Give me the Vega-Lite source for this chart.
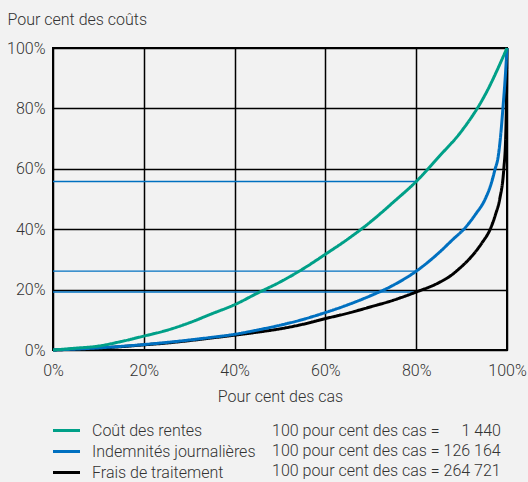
{
  "$schema": "https://vega.github.io/schema/vega-lite/v6.json",
  "autosize": {"type": "none"},
  "width": 454,
  "height": 302,
  "padding": {"left": 53, "top": 48, "right": 21, "bottom": 132},
  "background": "#f2f2f2",
  "config": {
    "font": "Roboto",
    "view": {"stroke": "#000000", "strokeWidth": 2},
    "axis": {
      "labelFont": "Roboto", "labelFontWeight": 300, "labelFontSize": 16, "labelColor": "#333333",
      "titleFont": "Roboto", "titleFontWeight": 300, "titleFontSize": 16, "titleColor": "#333333",
      "domain": false, "ticks": false, "tickSize": 0, "labelFlush": false,
      "gridColor": "#000000", "gridWidth": 1.5, "gridOpacity": 1
    },
    "legend": {
      "labelFont": "Roboto", "labelFontWeight": 300, "labelFontSize": 16, "labelColor": "#333333", "labelLimit": 400
    }
  },
  "layer": [
    {
      "data": {"values": [
        {"y": 55.8, "x": 0, "x2": 80},
        {"y": 26.1, "x": 0, "x2": 80},
        {"y": 19.2, "x": 0, "x2": 80}
      ]},
      "mark": {"type": "rule", "color": "#0070c0", "strokeWidth": 1.3},
      "encoding": {
        "x": {"field": "x", "type": "quantitative", "scale": {"domain": [0, 100]}},
        "x2": {"field": "x2"},
        "y": {"field": "y", "type": "quantitative", "scale": {"domain": [0, 100]}}
      }
    },
    {
      "data": {"values": [
        {"serie": "Frais de traitement", "cas": "100 pour cent des cas = 264 721", "x": 0, "y": 0},
        {"serie": "Frais de traitement", "cas": "100 pour cent des cas = 264 721", "x": 5, "y": 0.3},
        {"serie": "Frais de traitement", "cas": "100 pour cent des cas = 264 721", "x": 10, "y": 0.6},
        {"serie": "Frais de traitement", "cas": "100 pour cent des cas = 264 721", "x": 15, "y": 1.1},
        {"serie": "Frais de traitement", "cas": "100 pour cent des cas = 264 721", "x": 20, "y": 1.7},
        {"serie": "Frais de traitement", "cas": "100 pour cent des cas = 264 721", "x": 25, "y": 2.3},
        {"serie": "Frais de traitement", "cas": "100 pour cent des cas = 264 721", "x": 30, "y": 3.1},
        {"serie": "Frais de traitement", "cas": "100 pour cent des cas = 264 721", "x": 35, "y": 4.0},
        {"serie": "Frais de traitement", "cas": "100 pour cent des cas = 264 721", "x": 40, "y": 4.9},
        {"serie": "Frais de traitement", "cas": "100 pour cent des cas = 264 721", "x": 45, "y": 5.9},
        {"serie": "Frais de traitement", "cas": "100 pour cent des cas = 264 721", "x": 50, "y": 7.0},
        {"serie": "Frais de traitement", "cas": "100 pour cent des cas = 264 721", "x": 55, "y": 8.5},
        {"serie": "Frais de traitement", "cas": "100 pour cent des cas = 264 721", "x": 60, "y": 10.4},
        {"serie": "Frais de traitement", "cas": "100 pour cent des cas = 264 721", "x": 65, "y": 12.2},
        {"serie": "Frais de traitement", "cas": "100 pour cent des cas = 264 721", "x": 70, "y": 14.3},
        {"serie": "Frais de traitement", "cas": "100 pour cent des cas = 264 721", "x": 75, "y": 16.5},
        {"serie": "Frais de traitement", "cas": "100 pour cent des cas = 264 721", "x": 80, "y": 19.2},
        {"serie": "Frais de traitement", "cas": "100 pour cent des cas = 264 721", "x": 85, "y": 22.3},
        {"serie": "Frais de traitement", "cas": "100 pour cent des cas = 264 721", "x": 87.5, "y": 24.5},
        {"serie": "Frais de traitement", "cas": "100 pour cent des cas = 264 721", "x": 89.3, "y": 26.7},
        {"serie": "Frais de traitement", "cas": "100 pour cent des cas = 264 721", "x": 92.5, "y": 31.5},
        {"serie": "Frais de traitement", "cas": "100 pour cent des cas = 264 721", "x": 94.5, "y": 35.5},
        {"serie": "Frais de traitement", "cas": "100 pour cent des cas = 264 721", "x": 96.3, "y": 40},
        {"serie": "Frais de traitement", "cas": "100 pour cent des cas = 264 721", "x": 97.5, "y": 45},
        {"serie": "Frais de traitement", "cas": "100 pour cent des cas = 264 721", "x": 98.4, "y": 50},
        {"serie": "Frais de traitement", "cas": "100 pour cent des cas = 264 721", "x": 99.3, "y": 60},
        {"serie": "Frais de traitement", "cas": "100 pour cent des cas = 264 721", "x": 99.7, "y": 70},
        {"serie": "Frais de traitement", "cas": "100 pour cent des cas = 264 721", "x": 99.9, "y": 85},
        {"serie": "Frais de traitement", "cas": "100 pour cent des cas = 264 721", "x": 100, "y": 100},
        {"serie": "Indemnités journalières", "cas": "100 pour cent des cas = 126 164", "x": 0, "y": 0},
        {"serie": "Indemnités journalières", "cas": "100 pour cent des cas = 126 164", "x": 5, "y": 0.3},
        {"serie": "Indemnités journalières", "cas": "100 pour cent des cas = 126 164", "x": 10, "y": 0.7},
        {"serie": "Indemnités journalières", "cas": "100 pour cent des cas = 126 164", "x": 15, "y": 1.2},
        {"serie": "Indemnités journalières", "cas": "100 pour cent des cas = 126 164", "x": 20, "y": 1.8},
        {"serie": "Indemnités journalières", "cas": "100 pour cent des cas = 126 164", "x": 25, "y": 2.5},
        {"serie": "Indemnités journalières", "cas": "100 pour cent des cas = 126 164", "x": 30, "y": 3.3},
        {"serie": "Indemnités journalières", "cas": "100 pour cent des cas = 126 164", "x": 35, "y": 4.2},
        {"serie": "Indemnités journalières", "cas": "100 pour cent des cas = 126 164", "x": 40, "y": 5.2},
        {"serie": "Indemnités journalières", "cas": "100 pour cent des cas = 126 164", "x": 45, "y": 6.6},
        {"serie": "Indemnités journalières", "cas": "100 pour cent des cas = 126 164", "x": 50, "y": 8.2},
        {"serie": "Indemnités journalières", "cas": "100 pour cent des cas = 126 164", "x": 55, "y": 10.1},
        {"serie": "Indemnités journalières", "cas": "100 pour cent des cas = 126 164", "x": 60, "y": 12.4},
        {"serie": "Indemnités journalières", "cas": "100 pour cent des cas = 126 164", "x": 65, "y": 15.0},
        {"serie": "Indemnités journalières", "cas": "100 pour cent des cas = 126 164", "x": 70, "y": 18.0},
        {"serie": "Indemnités journalières", "cas": "100 pour cent des cas = 126 164", "x": 75, "y": 21.5},
        {"serie": "Indemnités journalières", "cas": "100 pour cent des cas = 126 164", "x": 80, "y": 26.1},
        {"serie": "Indemnités journalières", "cas": "100 pour cent des cas = 126 164", "x": 85, "y": 32.2},
        {"serie": "Indemnités journalières", "cas": "100 pour cent des cas = 126 164", "x": 88, "y": 36.5},
        {"serie": "Indemnités journalières", "cas": "100 pour cent des cas = 126 164", "x": 90.8, "y": 40.5},
        {"serie": "Indemnités journalières", "cas": "100 pour cent des cas = 126 164", "x": 93, "y": 44.8},
        {"serie": "Indemnités journalières", "cas": "100 pour cent des cas = 126 164", "x": 95.2, "y": 50.0},
        {"serie": "Indemnités journalières", "cas": "100 pour cent des cas = 126 164", "x": 96.5, "y": 55.0},
        {"serie": "Indemnités journalières", "cas": "100 pour cent des cas = 126 164", "x": 97.4, "y": 60.0},
        {"serie": "Indemnités journalières", "cas": "100 pour cent des cas = 126 164", "x": 98.0, "y": 63.5},
        {"serie": "Indemnités journalières", "cas": "100 pour cent des cas = 126 164", "x": 98.6, "y": 71.0},
        {"serie": "Indemnités journalières", "cas": "100 pour cent des cas = 126 164", "x": 99.1, "y": 80.0},
        {"serie": "Indemnités journalières", "cas": "100 pour cent des cas = 126 164", "x": 99.6, "y": 90.0},
        {"serie": "Indemnités journalières", "cas": "100 pour cent des cas = 126 164", "x": 100, "y": 100},
        {"serie": "Coût des rentes", "cas": "100 pour cent des cas = \u2007\u20071 440", "x": 0, "y": 0},
        {"serie": "Coût des rentes", "cas": "100 pour cent des cas = \u2007\u20071 440", "x": 5, "y": 0.6},
        {"serie": "Coût des rentes", "cas": "100 pour cent des cas = \u2007\u20071 440", "x": 10, "y": 1.3},
        {"serie": "Coût des rentes", "cas": "100 pour cent des cas = \u2007\u20071 440", "x": 15, "y": 2.8},
        {"serie": "Coût des rentes", "cas": "100 pour cent des cas = \u2007\u20071 440", "x": 20, "y": 4.6},
        {"serie": "Coût des rentes", "cas": "100 pour cent des cas = \u2007\u20071 440", "x": 25, "y": 6.5},
        {"serie": "Coût des rentes", "cas": "100 pour cent des cas = \u2007\u20071 440", "x": 30, "y": 9.0},
        {"serie": "Coût des rentes", "cas": "100 pour cent des cas = \u2007\u20071 440", "x": 35, "y": 12.0},
        {"serie": "Coût des rentes", "cas": "100 pour cent des cas = \u2007\u20071 440", "x": 40, "y": 15.0},
        {"serie": "Coût des rentes", "cas": "100 pour cent des cas = \u2007\u20071 440", "x": 45, "y": 18.8},
        {"serie": "Coût des rentes", "cas": "100 pour cent des cas = \u2007\u20071 440", "x": 50, "y": 22.5},
        {"serie": "Coût des rentes", "cas": "100 pour cent des cas = \u2007\u20071 440", "x": 55, "y": 26.8},
        {"serie": "Coût des rentes", "cas": "100 pour cent des cas = \u2007\u20071 440", "x": 60, "y": 31.7},
        {"serie": "Coût des rentes", "cas": "100 pour cent des cas = \u2007\u20071 440", "x": 65, "y": 36.8},
        {"serie": "Coût des rentes", "cas": "100 pour cent des cas = \u2007\u20071 440", "x": 70, "y": 42.5},
        {"serie": "Coût des rentes", "cas": "100 pour cent des cas = \u2007\u20071 440", "x": 75, "y": 49.0},
        {"serie": "Coût des rentes", "cas": "100 pour cent des cas = \u2007\u20071 440", "x": 80, "y": 55.8},
        {"serie": "Coût des rentes", "cas": "100 pour cent des cas = \u2007\u20071 440", "x": 85, "y": 64.0},
        {"serie": "Coût des rentes", "cas": "100 pour cent des cas = \u2007\u20071 440", "x": 90, "y": 72.5},
        {"serie": "Coût des rentes", "cas": "100 pour cent des cas = \u2007\u20071 440", "x": 95, "y": 84.0},
        {"serie": "Coût des rentes", "cas": "100 pour cent des cas = \u2007\u20071 440", "x": 100, "y": 100}
      ]},
      "mark": {"type": "line", "strokeWidth": 3, "interpolate": "monotone"},
      "encoding": {
        "x": {
          "field": "x", "type": "quantitative",
          "scale": {"domain": [0, 100], "nice": false},
          "axis": {
            "values": [0, 20, 40, 60, 80, 100],
            "labelExpr": "datum.value + '%'",
            "labelPadding": 12,
            "title": "Pour cent des cas",
            "titleFontSize": 16,
            "titleBaseline": "alphabetic",
            "titleY": 51
          }
        },
        "y": {
          "field": "y", "type": "quantitative",
          "scale": {"domain": [0, 100], "nice": false},
          "axis": {
            "values": [0, 20, 40, 60, 80, 100],
            "labelExpr": "datum.value + '%'",
            "labelPadding": 8,
            "title": "Pour cent des coûts",
            "titleFontSize": 16,
            "titleAngle": 0,
            "titleAlign": "left",
            "titleBaseline": "alphabetic",
            "titleX": -46,
            "titleY": -24
          }
        },
        "color": {
          "field": "serie", "type": "nominal",
          "scale": {
            "domain": ["Coût des rentes", "Indemnités journalières", "Frais de traitement"],
            "range": ["#00a088", "#0070c0", "#000000"]
          },
          "legend": {
            "orient": "none", "legendX": 5, "legendY": 374,
            "title": null,
            "symbolType": "M-2,0L2,0", "symbolSize": 182, "symbolStrokeWidth": 3,
            "labelOffset": 17, "rowPadding": 4
          }
        },
        "strokeDash": {
          "field": "cas", "type": "nominal",
          "scale": {
            "domain": ["100 pour cent des cas = \u2007\u20071 440", "100 pour cent des cas = 126 164", "100 pour cent des cas = 264 721"],
            "range": [[1, 0], [1, 0], [1, 0]]
          },
          "legend": {
            "orient": "none", "legendX": 203, "legendY": 375,
            "title": null,
            "symbolOpacity": 0, "symbolSize": 10,
            "labelOffset": 0, "rowPadding": 4
          }
        }
      }
    }
  ]
}
